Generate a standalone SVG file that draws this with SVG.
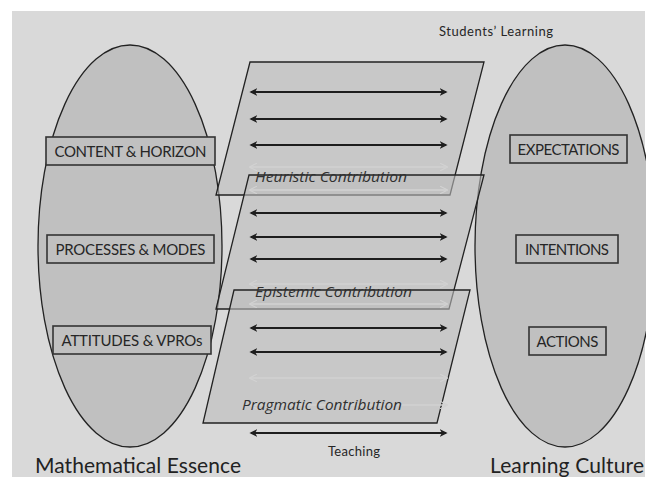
<svg xmlns="http://www.w3.org/2000/svg" width="646" height="477" viewBox="0 0 646 477">
<defs>
<style>
.bg{fill:#d9d9d9}
.ell{fill:#c0c0c0;stroke:#222;stroke-width:1.3}
.box{fill:#c0c0c0;stroke:#333;stroke-width:1.6}
.lbl{font-family:Lato,"Liberation Sans",sans-serif;font-size:15px;fill:#262626;text-anchor:middle}
.para{fill:#bdbdbd;fill-opacity:0.6;stroke:#222;stroke-width:1.3;stroke-linejoin:miter}
.contrib{font-family:"Open Sans","Liberation Sans",sans-serif;font-size:14.5px;font-style:italic;fill:#303030}
.small{font-family:Lato,"Liberation Sans",sans-serif;font-size:13px;fill:#262626}
.big{font-family:Lato,"Liberation Sans",sans-serif;font-size:21px;fill:#222}
.arr{stroke:#1e1e1e;stroke-width:2;fill:none;marker-start:url(#ah);marker-end:url(#ah)}
.faint{stroke:#d2d2d2;stroke-width:1.6;fill:none;marker-start:url(#ahf);marker-end:url(#ahf)}
</style>
<marker id="ah" viewBox="0 0 10 10" refX="8" refY="5" markerWidth="4" markerHeight="4" orient="auto-start-reverse" markerUnits="strokeWidth">
<path d="M0,0 L10,5 L0,10 L3,5 Z" fill="#1e1e1e"/>
</marker>
<marker id="ahf" viewBox="0 0 10 10" refX="8" refY="5" markerWidth="5" markerHeight="5" orient="auto-start-reverse" markerUnits="strokeWidth">
<path d="M0,0 L10,5 L0,10" fill="none" stroke="#d2d2d2" stroke-width="1.5"/>
</marker>
</defs>
<rect x="0" y="0" width="646" height="477" fill="#ffffff"/>
<rect class="bg" x="12" y="11" width="633" height="466"/>
<text class="small" x="439" y="36" textLength="114">Students’ Learning</text>

<g id="mathematical-essence">
<ellipse class="ell" cx="130" cy="246" rx="92" ry="201"/>
<text class="big" x="35" y="473" textLength="206">Mathematical Essence</text>
</g>
<g id="learning-culture">
<ellipse class="ell" cx="565" cy="246" rx="90" ry="201"/>
<text class="big" x="490" y="473" textLength="154">Learning Culture</text>
</g>

<g id="content-horizon">
<rect class="box" x="46" y="137" width="169" height="28"/>
<text class="lbl" x="130.5" y="156.5" textLength="152">CONTENT &amp; HORIZON</text>
</g>
<g id="processes-modes">
<rect class="box" x="47" y="235" width="167" height="28"/>
<text class="lbl" x="130.5" y="254.5" textLength="150">PROCESSES &amp; MODES</text>
</g>
<g id="attitudes-vpros">
<rect class="box" x="53" y="326" width="158" height="28"/>
<text class="lbl" x="132" y="345.5" textLength="141">ATTITUDES &amp; VPROs</text>
</g>

<g id="expectations">
<rect class="box" x="510" y="135" width="117" height="28"/>
<text class="lbl" x="568.5" y="154.5" textLength="102">EXPECTATIONS</text>
</g>
<g id="intentions">
<rect class="box" x="516" y="235" width="102" height="28"/>
<text class="lbl" x="567" y="254.5" textLength="84">INTENTIONS</text>
</g>
<g id="actions">
<rect class="box" x="529" y="327" width="77" height="28"/>
<text class="lbl" x="567.5" y="346.5" textLength="62">ACTIONS</text>
</g>

<g id="heuristic">
<polygon class="para" points="250,62 484,62 450,195 216,195"/>
</g>
<g id="epistemic">
<polygon class="para" points="249,175 484,175 449,309 216,309"/>
</g>
<g id="pragmatic">
<polygon class="para" points="234,290 470,290 437,423 203,423"/>
</g>

<g id="connectors">
<line class="arr" x1="251" y1="92" x2="446" y2="92"/>
<line class="arr" x1="251" y1="119" x2="446" y2="119"/>
<line class="arr" x1="251" y1="145" x2="446" y2="145"/>
<line class="faint" x1="251" y1="167" x2="446" y2="167"/>
<line class="faint" x1="251" y1="190" x2="446" y2="190"/>
<line class="arr" x1="251" y1="213" x2="446" y2="213"/>
<line class="arr" x1="251" y1="237" x2="446" y2="237"/>
<line class="arr" x1="251" y1="259" x2="446" y2="259"/>
<line class="faint" x1="251" y1="284" x2="446" y2="284"/>
<line class="faint" x1="251" y1="304" x2="446" y2="304"/>
<line class="arr" x1="251" y1="328" x2="446" y2="328"/>
<line class="arr" x1="251" y1="352" x2="446" y2="352"/>
<line class="faint" x1="251" y1="378" x2="446" y2="378"/>
<line class="faint" x1="251" y1="405" x2="446" y2="405"/>
<line class="arr" x1="251" y1="433" x2="446" y2="433"/>
</g>

<text class="contrib" x="255" y="182" textLength="152" lengthAdjust="spacingAndGlyphs">Heuristic Contribution</text>
<text class="contrib" x="255" y="297" textLength="157" lengthAdjust="spacingAndGlyphs">Epistemic Contribution</text>
<text class="contrib" x="242" y="410" textLength="160" lengthAdjust="spacingAndGlyphs">Pragmatic Contribution</text>
<text class="small" x="328" y="456" textLength="52">Teaching</text>
</svg>
